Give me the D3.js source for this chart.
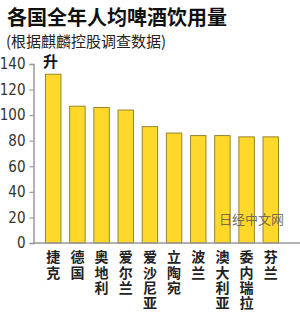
<!DOCTYPE html>
<html>
<head>
<meta charset="utf-8">
<script src="https://cdn.jsdelivr.net/npm/d3@7"></script>
<style>
  body { margin: 0; background: #fff; }
  svg { display: block; }
</style>
</head>
<body>
<div id="chart"></div>
<script>
// chart data
var countries = ["捷克", "德国", "奥地利", "爱尔兰", "爱沙尼亚", "立陶宛", "波兰", "澳大利亚", "委内瑞拉", "芬兰"]
var litres = [132, 107, 106, 104, 91, 86, 84, 84, 83, 83]
var yTicks = [0, 20, 40, 60, 80, 100, 120, 140]

var width = 300
var height = 318
var font = "'Noto Sans CJK SC', 'Noto Sans', sans-serif"

var svg = d3.select("#chart").append("svg")
    .attr("width", width)
    .attr("height", height)

// scales
var x = d3.scaleBand()
    .domain(countries)
    .range([31, 293])
    .paddingInner(0.36)
    .paddingOuter(0.6)

var y = d3.scaleLinear()
    .domain([0, 140])
    .range([243, 64])

// title
svg.append("text")
    .attr("x", 7).attr("y", 24.5)
    .style("font-family", font)
    .style("font-size", "20px")
    .style("font-weight", "bold")
    .attr("fill", "#111")
    .text("各国全年人均啤酒饮用量")

svg.append("text")
    .attr("x", 6).attr("y", 47)
    .style("font-family", font)
    .style("font-size", "15px")
    .attr("fill", "#222")
    .text("(根据麒麟控股调查数据)")

// bars
svg.append("g").selectAll("rect")
    .data(litres)
    .enter()
    .append("rect")
    .attr("x", (d, i) => x(countries[i]))
    .attr("y", d => y(d))
    .attr("width", x.bandwidth())
    .attr("height", d => y(0) - y(d))
    .attr("fill", "#FFD829")
    .attr("stroke", "#8a7a24")
    .attr("stroke-width", 0.9)

// y axis
var yAxis = svg.append("g")
    .attr("transform", "translate(33.5,0)")
    .call(d3.axisLeft(y).tickValues(yTicks).tickSize(4).tickPadding(4))

yAxis.select(".domain").attr("stroke", "#999").attr("stroke-width", 1.5)
yAxis.selectAll(".tick line").attr("stroke", "#999").attr("stroke-width", 1.2)
yAxis.selectAll(".tick text")
    .style("font-family", "'Liberation Sans Narrow', 'DejaVu Sans Condensed', sans-serif")
    .style("font-size", "15px")
    .attr("fill", "#333")

// baseline
svg.append("line")
    .attr("x1", 33).attr("x2", width)
    .attr("y1", y(0)).attr("y2", y(0))
    .attr("stroke", "#999")
    .attr("stroke-width", 1.5)

// unit
svg.append("text")
    .attr("x", 43).attr("y", 67)
    .style("font-family", font)
    .style("font-size", "15px")
    .style("font-weight", "bold")
    .attr("fill", "#111")
    .text("升")

// category labels, written top to bottom
svg.append("g").selectAll("text")
    .data(countries)
    .enter()
    .append("text")
    .attr("x", d => x(d) + x.bandwidth() / 2)
    .attr("y", 250)
    .style("writing-mode", "vertical-rl")
    .style("font-family", font)
    .style("font-size", "14px")
    .style("font-weight", "bold")
    .style("letter-spacing", "1.2px")
    .attr("fill", "#222")
    .text(d => d)

// watermark
svg.append("text")
    .attr("x", 219).attr("y", 224)
    .style("font-family", font)
    .style("font-size", "13px")
    .attr("fill", "#555")
    .attr("opacity", 0.8)
    .text("日经中文网")
</script>
</body>
</html>
